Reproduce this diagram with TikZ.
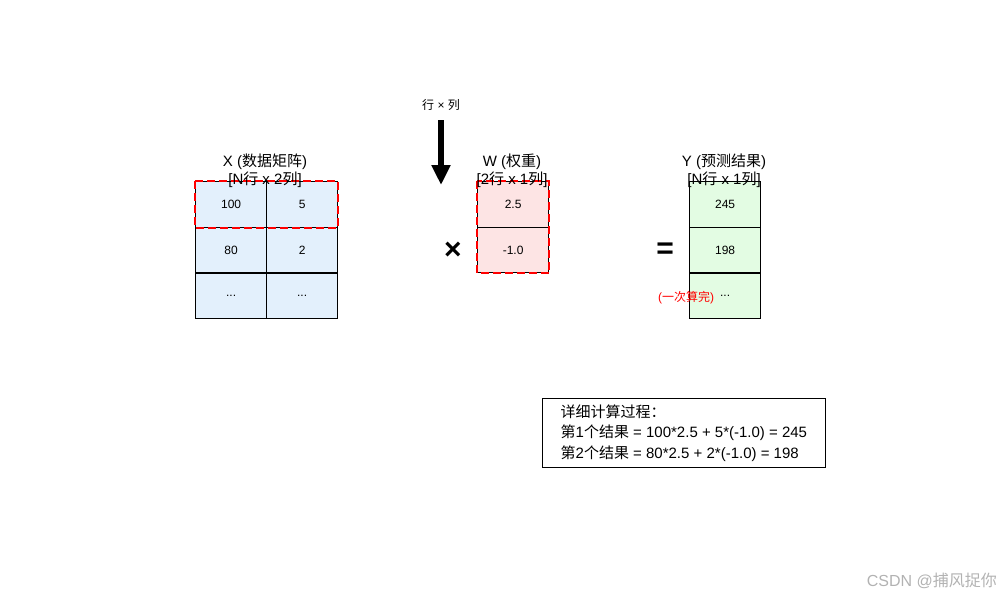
\documentclass[tikz,border=0pt]{standalone}
\usepackage{fontspec}
\setmainfont{Liberation Sans}
\newfontfamily\cjk{Noto Sans CJK SC}
\newcommand\zh[1]{{\cjk #1}}
\newcommand\dd{...}
\usetikzlibrary{arrows.meta}
\definecolor{xb}{HTML}{E3F0FC}
\definecolor{wb}{HTML}{FDE4E4}
\definecolor{yb}{HTML}{E3FCE3}
\tikzset{
 cell/.style={draw=black,line width=1.2pt,minimum width=71pt,minimum height=45.5pt,inner sep=0pt,font=\fontsize{12}{14}\selectfont,anchor=north west},
 hl/.style={draw=red,line width=2.2pt,dash pattern=on 8pt off 4pt},
 title/.style={align=center,font=\fontsize{15}{18}\selectfont,inner sep=0pt},
 big/.style={font=\fontsize{30}{30}\selectfont\bfseries,inner sep=0pt}
}
\begin{document}
\begin{tikzpicture}[x=1pt,y=-1pt]
\useasboundingbox (0,0) rectangle (1000,600);
\foreach \a/\b [count=\i from 0] in {100/5,80/2,\dd/\dd}{
 \node[cell,fill=xb] (x\i a) at (195,181+45.67*\i) {\a};
 \node[cell,fill=xb] (x\i b) at (266,181+45.67*\i) {\b};
}
\foreach \a [count=\i from 0] in {2.5,-1.0}{
 \node[cell,fill=wb] (w\i) at (477,181+45.67*\i) {\a};
}
\foreach \a [count=\i from 0] in {245,198,\dd}{
 \node[cell,fill=yb] (y\i) at (689,181+45.67*\i) {\a};
}
\draw[hl] (x0a.north west) rectangle (x0b.south east);
\draw[hl] (w0.north west) rectangle (w1.south east);
\node[title] (tx) at (265,171) {X (\zh{数据矩阵})\\{}[N\zh{行} x 2\zh{列}]};
\node[title] (tw) at (512,171) {W (\zh{权重})\\{}[2\zh{行} x 1\zh{列}]};
\node[title] (ty) at (724,171) {Y (\zh{预测结果})\\{}[N\zh{行} x 1\zh{列}]};
\node[font=\fontsize{12}{14}\selectfont] (lab) at (441,105) {\zh{行} × \zh{列}};
\coordinate (a1) at (441,120);
\coordinate (a2) at (441,185);
\draw[line width=6pt,-{Triangle[length=20pt,width=18pt]}] (a1) -- (a2);
\node[big] (mul) at (453,251) {×};
\node[big] (eq) at (665,251) {=};
\node[text=red,font=\fontsize{12}{14}\selectfont,inner sep=0pt] (note) at (686,298) {(\zh{一次算完})};
\node[draw=black,line width=0.8pt,align=left,anchor=north west,minimum width=283pt,minimum height=68pt,inner sep=6pt,font=\fontsize{15}{20.5}\selectfont] (calc) at (542,398) {\zh{详细计算过程：}\\\zh{第}1\zh{个结果} = 100*2.5 + 5*(-1.0) = 245\\\zh{第}2\zh{个结果} = 80*2.5 + 2*(-1.0) = 198};
\node[text=black!30,font=\fontsize{16}{18}\selectfont,anchor=east,inner sep=0pt] (wm) at (997,581) {CSDN @\zh{捕风捉你}};
\end{tikzpicture}
\end{document}
